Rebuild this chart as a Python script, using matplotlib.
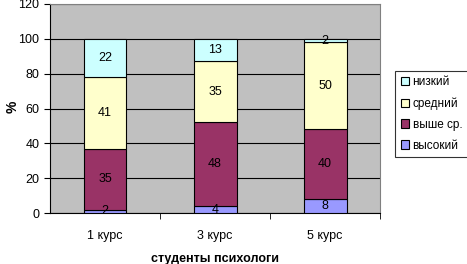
import numpy as np
import matplotlib
matplotlib.use('Agg')
from matplotlib import pyplot as plt

plt.rcParams['font.family'] = ['Liberation Sans', 'DejaVu Sans']

# Данные
kursy = ['1 курс', '3 курс', '5 курс']
vysokiy = [2, 4, 8]
vyshe_sr = [35, 48, 40]
sredniy = [41, 35, 50]
nizkiy = [22, 13, 2]

series = [('высокий', vysokiy, '#9999FF'),
          ('выше ср.', vyshe_sr, '#993366'),
          ('средний', sredniy, '#FFFFCC'),
          ('низкий', nizkiy, '#CCFFFF')]

fig = plt.figure(figsize=(4.67, 2.64), dpi=100)
ax = fig.add_axes([0.107, 0.193, 0.707, 0.792])
ax.set_facecolor('#C0C0C0')

x = np.arange(len(kursy))
bottom = np.zeros(len(kursy))
bars = []
for name, vals, color in series:
    b = ax.bar(x, vals, width=0.39, bottom=bottom, color=color,
               edgecolor='black', linewidth=0.8, label=name, zorder=3)
    for xi, bi, v in zip(x, bottom, vals):
        ax.text(xi, bi + v / 2, str(v), ha='center', va='center',
                fontsize=9, color='black', zorder=4)
    bottom = bottom + np.array(vals)
    bars.append(b)

ax.set_xlim(-0.5, 2.5)
ax.set_ylim(0, 120)
ax.set_yticks(range(0, 121, 20))
ax.yaxis.grid(True, color='black', linewidth=0.8, zorder=1)
ax.set_xticks(x)
ax.set_xticklabels(kursy, fontsize=9)
ax.set_xticks([0.5, 1.5, 2.5], minor=True)
ax.tick_params(axis='x', which='major', length=0, pad=12)
ax.tick_params(axis='x', which='minor', length=4, direction='out')
ax.tick_params(axis='y', labelsize=9, length=4, direction='out')

for s in ['top', 'right']:
    ax.spines[s].set_color('#808080')
for s in ['left', 'bottom']:
    ax.spines[s].set_color('black')

# подпись оси Y
fig.text(0.028, 0.595, '%', rotation=90, ha='center', va='center',
         fontsize=10, fontweight='bold')
ax.set_xlabel('студенты психологи', fontsize=9, fontweight='bold', labelpad=8)

h = bars[::-1]
leg = fig.legend(h, [s[0] for s in series][::-1], loc='upper left',
                 bbox_to_anchor=(0.833, 0.755), fontsize=8.5, frameon=True,
                 fancybox=False, edgecolor='black', handlelength=0.7,
                 handleheight=0.7, handletextpad=0.3, borderpad=0.5,
                 labelspacing=0.75)
leg.get_frame().set_linewidth(0.8)

fig.savefig('out.png', dpi=100)
